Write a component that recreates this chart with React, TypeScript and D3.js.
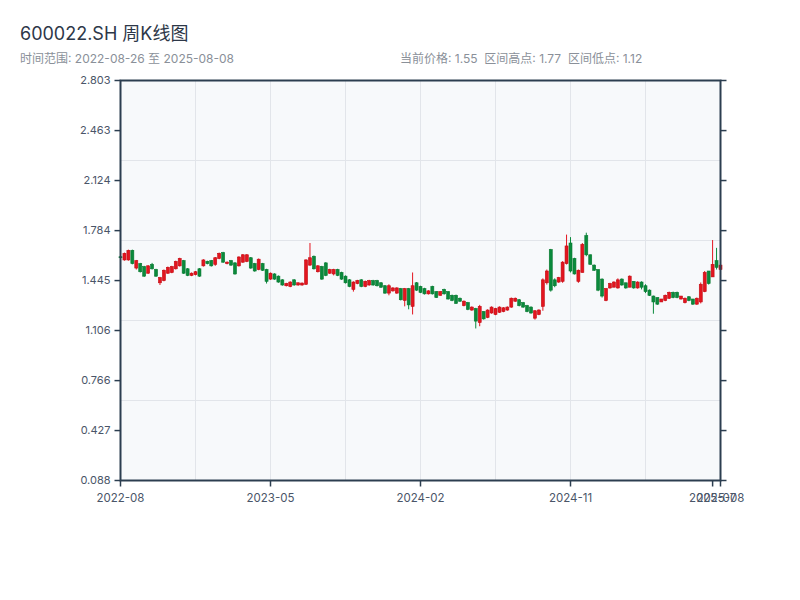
import React from "react";
import * as d3 from "d3";

// Weekly OHLC, 2022-08-26 .. 2025-08-08 (153 weeks)
const opens = [
  1.607, 1.585, 1.585, 1.65, 1.53, 1.56, 1.54, 1.495, 1.555, 1.52,
  1.43, 1.445, 1.495, 1.5, 1.525, 1.545, 1.58, 1.525, 1.48, 1.485,
  1.525, 1.545, 1.575, 1.58, 1.555, 1.595, 1.635, 1.56, 1.58, 1.565,
  1.545, 1.57, 1.575, 1.6, 1.56, 1.52, 1.56, 1.52, 1.455, 1.49,
  1.475, 1.45, 1.41, 1.405, 1.45, 1.415, 1.415, 1.42, 1.55, 1.61,
  1.505, 1.54, 1.565, 1.495, 1.49, 1.52, 1.5, 1.475, 1.45, 1.385,
  1.425, 1.45, 1.405, 1.415, 1.445, 1.445, 1.43, 1.41, 1.36, 1.375,
  1.36, 1.39, 1.31, 1.39, 1.27, 1.43, 1.405, 1.39, 1.355, 1.405,
  1.37, 1.345, 1.385, 1.37, 1.345, 1.345, 1.325, 1.275, 1.295, 1.245,
  1.255, 1.16, 1.235, 1.195, 1.225, 1.215, 1.23, 1.235, 1.245, 1.265,
  1.305, 1.315, 1.295, 1.275, 1.265, 1.19, 1.215, 1.27, 1.43, 1.655,
  1.45, 1.435, 1.44, 1.56, 1.7, 1.595, 1.44, 1.5, 1.75, 1.62,
  1.55, 1.52, 1.455, 1.31, 1.395, 1.4, 1.395, 1.455, 1.43, 1.4,
  1.44, 1.395, 1.435, 1.41, 1.38, 1.34, 1.33, 1.3, 1.31, 1.325,
  1.365, 1.365, 1.32, 1.295, 1.335, 1.32, 1.285, 1.3, 1.37, 1.51,
  1.47, 1.58, 1.52,
];
const closes = [
  1.6, 1.63, 1.65, 1.56, 1.58, 1.505, 1.475, 1.545, 1.525, 1.475,
  1.465, 1.515, 1.535, 1.54, 1.575, 1.595, 1.495, 1.48, 1.495, 1.505,
  1.475, 1.585, 1.56, 1.545, 1.6, 1.63, 1.57, 1.57, 1.55, 1.49,
  1.605, 1.62, 1.62, 1.53, 1.51, 1.59, 1.515, 1.44, 1.495, 1.455,
  1.435, 1.415, 1.425, 1.435, 1.415, 1.43, 1.428, 1.585, 1.6, 1.525,
  1.545, 1.455, 1.48, 1.52, 1.52, 1.48, 1.455, 1.43, 1.405, 1.435,
  1.445, 1.405, 1.44, 1.445, 1.415, 1.41, 1.4, 1.36, 1.41, 1.395,
  1.395, 1.315, 1.39, 1.28, 1.41, 1.38, 1.365, 1.355, 1.375, 1.355,
  1.33, 1.37, 1.355, 1.32, 1.31, 1.29, 1.305, 1.305, 1.25, 1.265,
  1.17, 1.27, 1.185, 1.245, 1.265, 1.255, 1.265, 1.26, 1.265, 1.325,
  1.325, 1.275, 1.265, 1.235, 1.225, 1.24, 1.245, 1.45, 1.51, 1.38,
  1.41, 1.465, 1.57, 1.68, 1.51, 1.49, 1.515, 1.69, 1.62, 1.555,
  1.515, 1.38, 1.34, 1.39, 1.425, 1.435, 1.45, 1.415, 1.395, 1.475,
  1.395, 1.435, 1.4, 1.37, 1.345, 1.3, 1.285, 1.32, 1.345, 1.365,
  1.33, 1.33, 1.34, 1.325, 1.31, 1.285, 1.325, 1.42, 1.5, 1.425,
  1.555, 1.535, 1.55,
];
const lows = [
  1.598, 1.58, 1.58, 1.555, 1.52, 1.5, 1.47, 1.49, 1.52, 1.47,
  1.415, 1.44, 1.49, 1.495, 1.52, 1.54, 1.49, 1.475, 1.475, 1.48,
  1.47, 1.54, 1.555, 1.54, 1.545, 1.59, 1.565, 1.555, 1.545, 1.485,
  1.54, 1.565, 1.57, 1.525, 1.505, 1.515, 1.51, 1.425, 1.45, 1.45,
  1.43, 1.41, 1.405, 1.4, 1.41, 1.41, 1.41, 1.415, 1.545, 1.52,
  1.5, 1.45, 1.475, 1.49, 1.48, 1.475, 1.45, 1.425, 1.4, 1.37,
  1.42, 1.4, 1.4, 1.41, 1.41, 1.405, 1.395, 1.355, 1.345, 1.37,
  1.355, 1.31, 1.27, 1.25, 1.215, 1.375, 1.36, 1.35, 1.35, 1.35,
  1.327, 1.343, 1.35, 1.316, 1.305, 1.287, 1.3, 1.27, 1.244, 1.24,
  1.12, 1.135, 1.18, 1.19, 1.22, 1.21, 1.225, 1.23, 1.24, 1.26,
  1.3, 1.27, 1.26, 1.23, 1.22, 1.18, 1.21, 1.24, 1.418, 1.37,
  1.4, 1.43, 1.43, 1.554, 1.5, 1.486, 1.43, 1.5, 1.61, 1.554,
  1.51, 1.373, 1.33, 1.305, 1.39, 1.4, 1.39, 1.41, 1.39, 1.4,
  1.39, 1.39, 1.385, 1.36, 1.34, 1.22, 1.28, 1.3, 1.305, 1.32,
  1.325, 1.325, 1.316, 1.29, 1.305, 1.28, 1.28, 1.29, 1.366, 1.418,
  1.47, 1.52, 1.515,
];
const highs = [
  1.612, 1.635, 1.655, 1.655, 1.585, 1.565, 1.545, 1.55, 1.565, 1.525,
  1.47, 1.52, 1.54, 1.545, 1.58, 1.6, 1.585, 1.53, 1.5, 1.51,
  1.53, 1.59, 1.58, 1.585, 1.605, 1.635, 1.64, 1.575, 1.585, 1.57,
  1.61, 1.625, 1.625, 1.605, 1.565, 1.595, 1.565, 1.525, 1.5, 1.495,
  1.48, 1.455, 1.43, 1.44, 1.455, 1.432, 1.432, 1.59, 1.7, 1.615,
  1.55, 1.545, 1.57, 1.525, 1.525, 1.525, 1.505, 1.48, 1.455, 1.44,
  1.45, 1.455, 1.445, 1.45, 1.45, 1.45, 1.435, 1.415, 1.42, 1.4,
  1.4, 1.395, 1.395, 1.395, 1.5, 1.435, 1.41, 1.396, 1.38, 1.41,
  1.373, 1.373, 1.39, 1.373, 1.35, 1.35, 1.33, 1.31, 1.3, 1.27,
  1.26, 1.28, 1.237, 1.25, 1.27, 1.26, 1.27, 1.265, 1.27, 1.33,
  1.33, 1.32, 1.3, 1.28, 1.27, 1.245, 1.25, 1.46, 1.52, 1.66,
  1.46, 1.47, 1.577, 1.757, 1.74, 1.6, 1.52, 1.7, 1.77, 1.622,
  1.554, 1.52, 1.46, 1.395, 1.43, 1.44, 1.46, 1.46, 1.43, 1.48,
  1.44, 1.44, 1.44, 1.42, 1.385, 1.343, 1.33, 1.32, 1.35, 1.37,
  1.37, 1.37, 1.34, 1.33, 1.34, 1.32, 1.33, 1.432, 1.51, 1.51,
  1.72, 1.667, 1.56,
];

const yTickLabels = ["0.088", "0.427", "0.766", "1.106", "1.445", "1.784", "2.124", "2.463", "2.803"];
const xTickIndex = [0, 38, 76, 114, 150, 152];
const xTickLabels = ["2022-08", "2023-05", "2024-02", "2024-11", "2025-07", "2025-08"];

const titleText = "600022.SH 周K线图";
const rangeText = "时间范围: 2022-08-26 至 2025-08-08";
const statsText = "当前价格: 1.55  区间高点: 1.77  区间低点: 1.12";

const FONT = "Inter, 'Noto Sans CJK SC', sans-serif";

export default function App() {
  const left = 120.5, right = 720.5, top = 80.5, bottom = 480.5;
  const n = opens.length;
  const x = d3.scaleLinear().domain([0, n - 1]).range([left, right]);
  const y = d3.scaleLinear().domain([0.088, 2.803]).range([bottom, top]);
  const gx = d3.scaleLinear().domain([0, 8]).range([left, right]);
  const gy = d3.scaleLinear().domain([0, 5]).range([bottom, top]);
  const axisColor = "#2c3e50";
  const labelColor = "#4a5568";
  const up = { fill: "#e3151f", stroke: "#c20a12" };
  const down = { fill: "#0a8a3c", stroke: "#07782f" };
  const bw = 3;

  return (
    <svg
      width={800}
      height={600}
      style={{ position: "absolute", left: 0, top: 0, background: "#fff" }}
      fontFamily={FONT}
    >
      <text x={20} y={40} fontSize={18} fill="#2d3748">{titleText}</text>
      <text x={20} y={63} fontSize={12} fill="#8a9099">{rangeText}</text>
      <text x={400} y={63} fontSize={12} fill="#8a9099" xmlSpace="preserve" style={{ whiteSpace: "pre" }}>{statsText}</text>

      <rect x={left} y={top} width={right - left} height={bottom - top} fill="#f7f9fb" />
      {d3.range(1, 8).map((k) => (
        <line key={"gv" + k} x1={gx(k)} x2={gx(k)} y1={top} y2={bottom} stroke="#e2e5ea" strokeWidth={1} />
      ))}
      {d3.range(1, 5).map((k) => (
        <line key={"gh" + k} x1={left} x2={right} y1={gy(k)} y2={gy(k)} stroke="#e2e5ea" strokeWidth={1} />
      ))}

      {opens.map((o, i) => {
        const c = closes[i];
        const col = c >= o ? up : down;
        const cx = x(i);
        const yTop = y(Math.max(o, c));
        const yBot = y(Math.min(o, c));
        return (
          <g key={"c" + i}>
            <line x1={cx} x2={cx} y1={y(highs[i])} y2={y(lows[i])} stroke={col.fill} strokeWidth={1} />
            <rect
              x={cx - bw / 2}
              y={yTop}
              width={bw}
              height={Math.max(1, yBot - yTop)}
              fill={col.fill}
              stroke={col.stroke}
              strokeWidth={0.6}
            />
          </g>
        );
      })}

      {/* frame */}
      <rect x={left} y={top} width={right - left} height={bottom - top} fill="none" stroke={axisColor} strokeWidth={2} />

      {/* left / right axis ticks + labels */}
      {yTickLabels.map((t) => {
        const yy = y(parseFloat(t));
        return (
          <g key={"yl" + t}>
            <line x1={left - 6} x2={left} y1={yy} y2={yy} stroke={axisColor} strokeWidth={1.5} />
            <line x1={right} x2={right + 6} y1={yy} y2={yy} stroke={axisColor} strokeWidth={1.5} />
            <text x={left - 10} y={yy} dy="0.35em" textAnchor="end" fontSize={11} fill={labelColor}>{t}</text>
          </g>
        );
      })}

      {/* bottom axis ticks + labels */}
      {xTickIndex.map((idx, k) => (
        <g key={"xl" + k}>
          <line x1={x(idx)} x2={x(idx)} y1={bottom} y2={bottom + 6} stroke={axisColor} strokeWidth={1.5} />
          <text x={x(idx)} y={bottom + 21} textAnchor="middle" fontSize={11.5} fill={labelColor}>{xTickLabels[k]}</text>
        </g>
      ))}
    </svg>
  );
}
